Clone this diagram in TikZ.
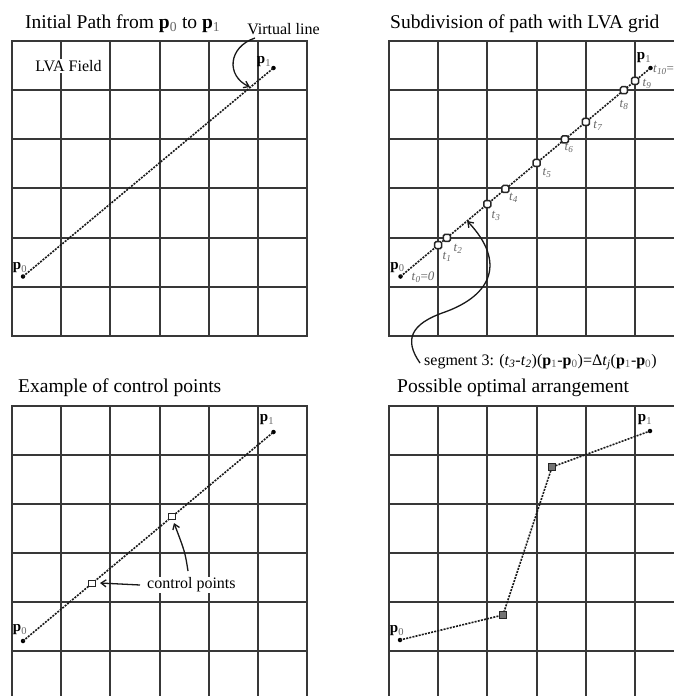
\documentclass[tikz,border=0pt]{standalone}
\usepackage{fontspec}
\setmainfont{Liberation Serif}
\usetikzlibrary{arrows.meta,calc}
\newcommand\myPz{\textbf{p}\textsubscript{\mdseries\color{black!60}0}}
\newcommand\myPo{\textbf{p}\textsubscript{\mdseries\color{black!60}1}}
\newcommand\myT[1]{\textit{t}\textsubscript{\textit{#1}}}
\begin{document}
\begin{tikzpicture}[x=1pt,y=-1pt,
 gridline/.style={line width=2pt,draw=black!78,line cap=rect},
 pathline/.style={line width=1.6pt,draw=black!90,dash pattern=on 2pt off 1.2pt},
 enddot/.style={circle,fill=black,inner sep=0pt,minimum size=4.5pt},
 tmark/.style={rectangle,draw=black!85,fill=white,line width=1.5pt,minimum size=7pt,inner sep=0pt,rounded corners=1.5pt},
 cmark/.style={rectangle,draw=black!85,fill=white,line width=1pt,minimum size=6.5pt,inner sep=0pt},
 omark/.style={rectangle,draw=black!85,fill=black!55,line width=1pt,minimum size=6.5pt,inner sep=0pt},
 arr/.style={line width=1.3pt,draw=black!90,-{Straight Barb[length=5pt,width=7pt]}},
 title/.style={font=\fontsize{19.5}{22}\selectfont,inner sep=0pt,anchor=base west},
 lbl/.style={font=\fontsize{16}{18}\selectfont,inner sep=1pt},
 plbl/.style={font=\fontsize{15}{16}\selectfont,inner sep=0pt},
 tlbl/.style={font=\fontsize{13}{14}\selectfont,text=black!60,inner sep=0pt}
]
\useasboundingbox (0,0) rectangle (674,696);
\clip (0,0) rectangle (674,696);
\fill[white] (0,0) rectangle (674,696);

% grids (left columns / right columns ; top rows / bottom rows)
\foreach \xs/\ys in {{12,61,110,160,209,258,307}/{41,90,139,188,238,287,336},
                     {389,438,487,537,586,635,684}/{41,90,139,188,238,287,336},
                     {12,61,110,160,209,258,307}/{406,455,504,553,602,651,700},
                     {389,438,487,537,586,635,684}/{406,455,504,553,602,651,700}}{
  \edef\xl{\xs}\edef\yl{\ys}
  \pgfmathsetmacro\xa{{\xl}[0]}\pgfmathsetmacro\xb{{\xl}[6]}
  \pgfmathsetmacro\ya{{\yl}[0]}\pgfmathsetmacro\yb{{\yl}[6]}
  \foreach \x in \xl { \draw[gridline] (\x,\ya) -- (\x,\yb); }
  \foreach \y in \yl { \draw[gridline] (\xa,\y) -- (\xb,\y); }
}

% titles
\node[title] (ta) at (25,28.5) {Initial Path from \myPz{} to \myPo};
\node[title] (tb) at (390,28.5) {Subdivision of path with LVA grid};
\node[title] (tc) at (18,392.5) {Example of control points};
\node[title] (td) at (397,392.5) {Possible optimal arrangement};

% ---------- panel A ----------
\node[enddot] (a0) at (23,276.5) {};
\node[enddot] (a1) at (273.5,68) {};
\draw[pathline] (a0.center) -- (a1.center);
\node[plbl] (a0l) at (20,268) {\myPz};
\node[plbl] (a1l) at (264,62) {\myPo};
\node[lbl,fill=white] (lva) at (68.5,66) {LVA Field};
\node[lbl] (vl) at (283.5,29) {Virtual line};
\coordinate (vs) at (255,38);
\coordinate (vt) at (250,87);
\draw[arr] (vs) .. controls (228,47) and (226,76) .. (vt);

% ---------- panel B ----------
\node[enddot] (b0) at (400.5,276.5) {};
\node[enddot] (b1) at (650.5,68) {};
\draw[pathline] (b0.center) -- (b1.center);
\foreach \f [count=\k] in {0.1508,0.1856,0.3476,0.4197,0.5444,0.6576,0.7412,0.8935,0.938}{
  \node[tmark] (t\k) at ($(b0.center)!\f!(b1.center)$) {};
}
\node[plbl] (b0l) at (397.5,267.5) {\myPz};
\node[plbl] (b1l) at (644,58) {\myPo};
\node[tlbl] (l0) at (423,277.5) {\myT{0}=\textit{0}};
\node[tlbl] (l1) at (447,256.5) {\myT{1}};
\node[tlbl] (l2) at (458,249) {\myT{2}};
\node[tlbl] (l3) at (496,216) {\myT{3}};
\node[tlbl] (l4) at (513.5,197.5) {\myT{4}};
\node[tlbl] (l5) at (547,172.5) {\myT{5}};
\node[tlbl] (l6) at (569,148) {\myT{6}};
\node[tlbl] (l7) at (598,126) {\myT{7}};
\node[tlbl] (l8) at (624,105) {\myT{8}};
\node[tlbl] (l9) at (647,84) {\myT{9}};
\node[tlbl,anchor=west] (l10) at (653,70) {\myT{10}=};
\coordinate (seg3) at ($(t2.center)!0.5!(t3.center)$);
\node[lbl,anchor=west] (seg) at (423,362) {segment 3: (\myT{3}-\myT{2})(\myPo-\myPz)=Δ\myT{j}(\myPo-\myPz)};
\coordinate (ss) at (420,363);
\draw[arr] (ss) .. controls (404,340) and (410,324) .. (445,312)
   .. controls (492,295) and (506,262) .. (seg3);

% ---------- panel C ----------
\node[enddot] (c0) at (23,641) {};
\node[enddot] (c1) at (273.5,432) {};
\draw[pathline] (c0.center) -- (c1.center);
\node[cmark] (cp1) at ($(c0.center)!0.275!(c1.center)$) {};
\node[cmark] (cp2) at ($(c0.center)!0.595!(c1.center)$) {};
\node[plbl] (c0l) at (20,630) {\myPz};
\node[plbl] (c1l) at (267,420) {\myPo};
\node[lbl,fill=white,anchor=west] (ctl) at (146,585) {control points};
\coordinate (ca1) at (140,585);
\coordinate (ct1) at (100,583);
\coordinate (ca2) at (188,571);
\coordinate (ct2) at (174,523);
\draw[arr] (ca1) -- (ct1);
\draw[arr] (ca2) .. controls (185,552) .. (ct2);

% ---------- panel D ----------
\node[enddot] (d0) at (400,640) {};
\node[enddot] (d1) at (650,431) {};
\coordinate (dq1) at (503,615);
\coordinate (dq2) at (552,467);
\draw[pathline] (d0.center) -- (dq1) -- (dq2) -- (d1.center);
\node[omark] (dm1) at (dq1) {};
\node[omark] (dm2) at (dq2) {};
\node[plbl] (d0l) at (397,631) {\myPz};
\node[plbl] (d1l) at (645,420) {\myPo};
\end{tikzpicture}
\end{document}
